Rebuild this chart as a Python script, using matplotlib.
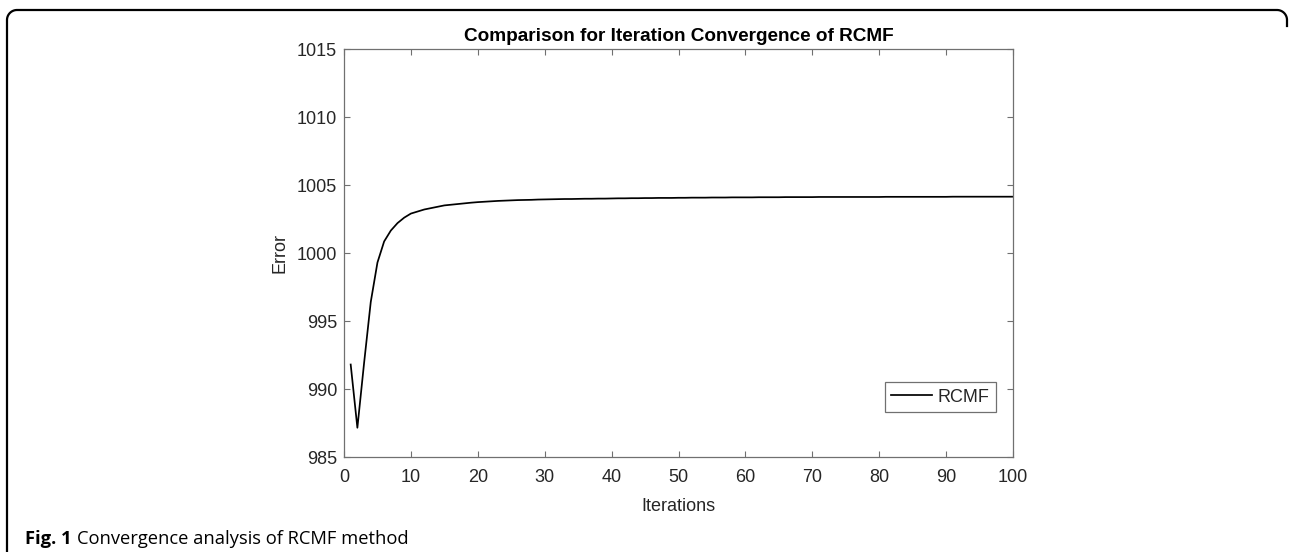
import numpy as np
import matplotlib
matplotlib.use("Agg")
import matplotlib.pyplot as plt
from matplotlib.lines import Line2D

iterations = list(range(1, 101))
error = [
    991.8, 987.15, 991.9, 996.4, 999.3, 1000.85, 1001.65, 1002.2, 1002.6, 1002.9,
    1003.05, 1003.2, 1003.3, 1003.4, 1003.5, 1003.55, 1003.6, 1003.65, 1003.7, 1003.74,
    1003.77, 1003.8, 1003.83, 1003.85, 1003.87, 1003.89, 1003.9, 1003.91, 1003.93, 1003.94,
    1003.95, 1003.96, 1003.97, 1003.97, 1003.98, 1003.99, 1003.99, 1004.0, 1004.0, 1004.01,
    1004.02, 1004.02, 1004.03, 1004.03, 1004.04, 1004.04, 1004.05, 1004.05, 1004.05, 1004.06,
    1004.06, 1004.07, 1004.07, 1004.07, 1004.08, 1004.08, 1004.08, 1004.09, 1004.09, 1004.09,
    1004.09, 1004.1, 1004.1, 1004.1, 1004.1, 1004.11, 1004.11, 1004.11, 1004.11, 1004.11,
    1004.12, 1004.12, 1004.12, 1004.12, 1004.12, 1004.12, 1004.12, 1004.12, 1004.12, 1004.12,
    1004.13, 1004.13, 1004.13, 1004.13, 1004.13, 1004.13, 1004.13, 1004.13, 1004.13, 1004.13,
    1004.14, 1004.14, 1004.14, 1004.14, 1004.14, 1004.14, 1004.14, 1004.14, 1004.14, 1004.14,
]
xticks = list(range(0, 101, 10))
yticks = list(range(985, 1016, 5))

W, H = 1291, 552
plt.rcParams['font.family'] = ['Liberation Sans', 'DejaVu Sans']
axcol = '#707070'
txtcol = '#262626'

fig = plt.figure(figsize=(W / 100, H / 100), dpi=100)
ax = fig.add_axes([344 / W, 1 - 457 / H, (1013 - 344) / W, (457 - 49) / H])

ax.plot(iterations, error, color='black', linewidth=1.25, label='RCMF')
ax.set_xlim(0, 100)
ax.set_ylim(985, 1015)
ax.set_xticks(xticks)
ax.set_yticks(yticks)
ax.tick_params(direction='in', top=True, right=True, length=4.5, width=0.8,
               color=axcol, labelsize=13, labelcolor=txtcol)
ax.tick_params(axis='x', pad=9)
ax.tick_params(axis='y', pad=5)
for s in ax.spines.values():
    s.set_color(axcol)
    s.set_linewidth(0.9)

ax.set_xlabel('Iterations', fontsize=13, color=txtcol, labelpad=8)
ax.set_ylabel('Error', fontsize=13, color=txtcol, labelpad=6)
ax.set_title('Comparison for Iteration Convergence of RCMF', fontsize=13.7,
             fontweight='bold', color='black', pad=6)

leg = ax.legend(loc='lower right', bbox_to_anchor=(0.9746, 0.110), borderaxespad=0,
                fontsize=13, fancybox=False, framealpha=1, handlelength=2.3,
                handletextpad=0.3, borderpad=0.35, edgecolor=axcol)
leg.get_frame().set_linewidth(0.9)
for t in leg.get_texts():
    t.set_color(txtcol)

# journal frame: left side and top edge with rounded corners
r = 10
xl, xr, yt = 7, 1287, 10
th = np.linspace(np.pi, np.pi / 2, 20)
left_corner = np.column_stack([xl + r + r * np.cos(th), yt + r - r * np.sin(th)])
th2 = np.linspace(np.pi / 2, 0, 20)
right_corner = np.column_stack([xr - r + r * np.cos(th2), yt + r - r * np.sin(th2)])
pts = np.vstack([[[xl, H]], left_corner, right_corner, [[xr, yt + r + 6]]])
fig.add_artist(Line2D(pts[:, 0] / W, 1 - pts[:, 1] / H, transform=fig.transFigure,
                      color='black', linewidth=1.6))

# caption: bold label followed by regular text
cap_y = 1 - 539 / H
t1 = fig.text(25 / W, cap_y, 'Fig. 1', fontsize=13.2, fontweight='bold',
              family='Open Sans', va='center', ha='left')
fig.canvas.draw()
bb = t1.get_window_extent()
fig.text((bb.x1 + 5) / W, cap_y, 'Convergence analysis of RCMF method', fontsize=13.2,
         family='Open Sans', va='center', ha='left')

fig.savefig('out.png', dpi=100)
